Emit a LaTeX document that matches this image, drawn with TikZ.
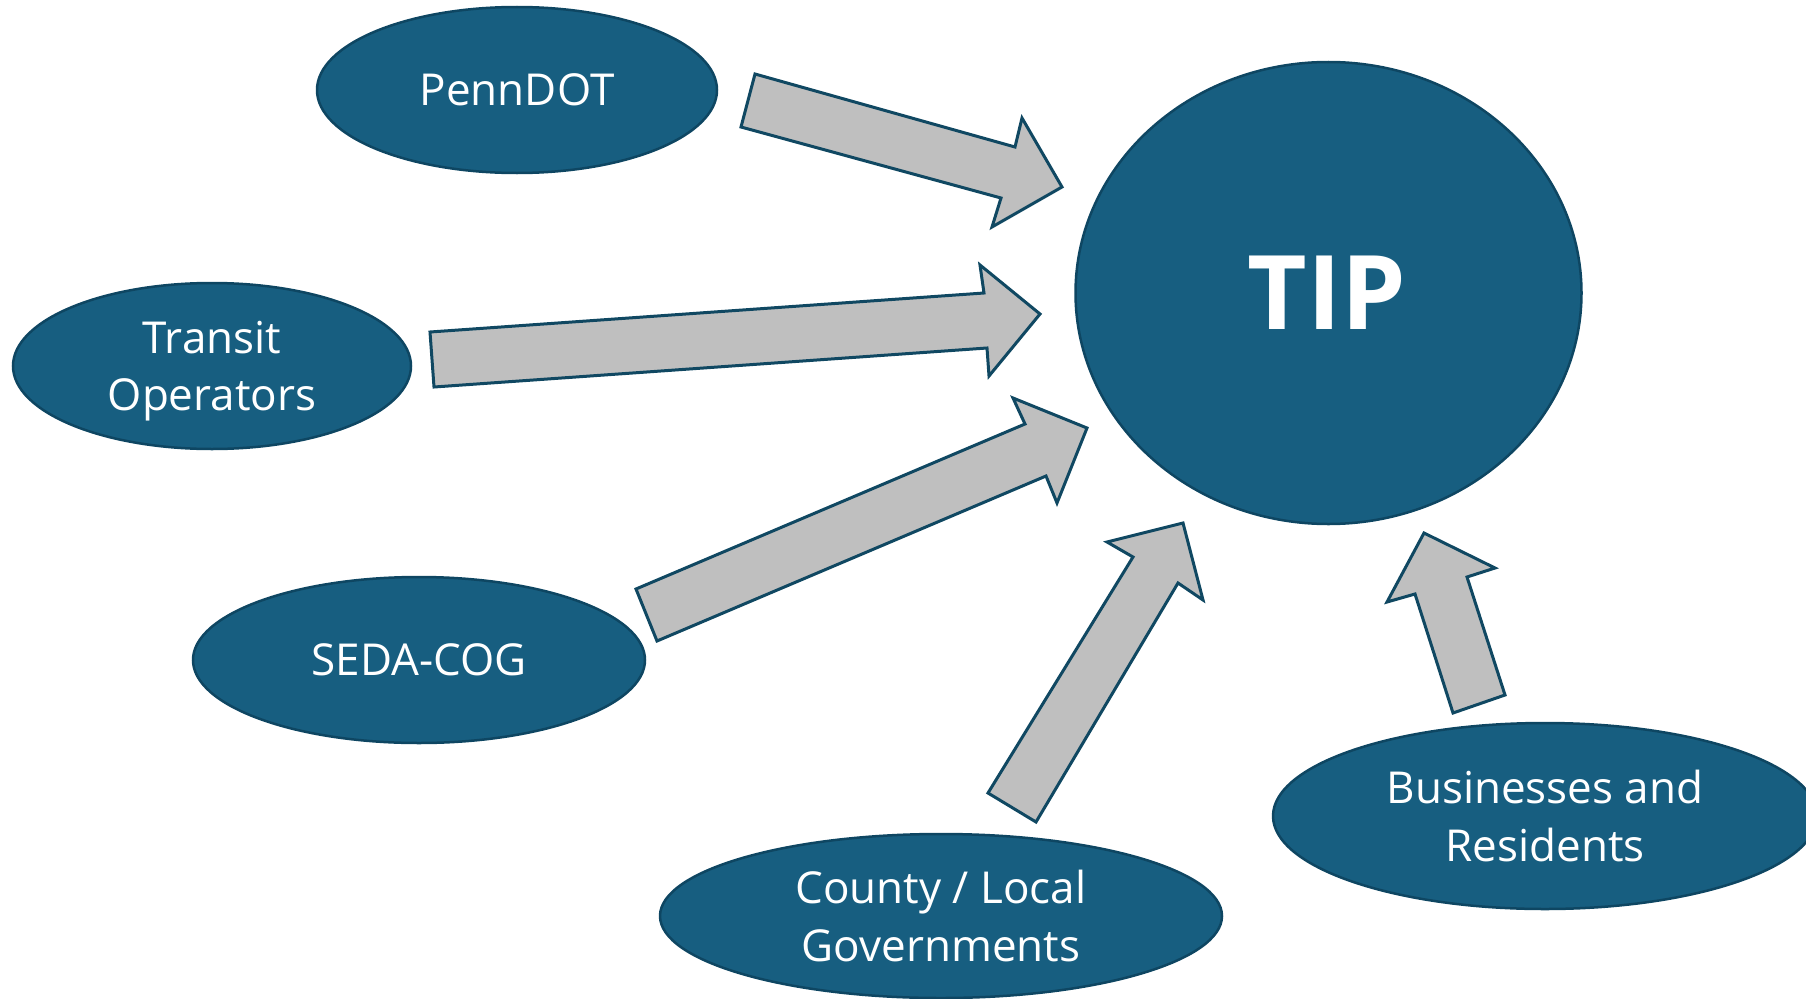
\documentclass[tikz,border=0pt]{standalone}
\usepackage{fontspec}
\setmainfont{Open Sans}
\usetikzlibrary{shapes.geometric}
\definecolor{blobfill}{RGB}{23,94,128}
\definecolor{blobedge}{RGB}{14,70,98}
\definecolor{arrfill}{RGB}{191,191,191}
\definecolor{arredge}{RGB}{16,72,98}
\tikzset{
  blob/.style={ellipse, fill=blobfill, draw=blobedge, line width=2.5pt, inner sep=0pt,
    text=white, align=center, text depth=0pt, font=\fontsize{44}{57.5}\selectfont},
  blockarrow/.style={fill=arrfill, draw=arredge, line width=3pt, line join=miter}
}
\begin{document}
\begin{tikzpicture}[x=1pt,y=-1pt]
\useasboundingbox (0,0) rectangle (1806,998);
% nodes
\node[blob, minimum width=506pt, minimum height=462pt] (tip) at (1328.5,293) {};
\node[text=white, font=\fontsize{103}{110}\selectfont\bfseries] (tiplabel) at (1327,293) {TIP};
\node[blob, minimum width=400pt, minimum height=166pt] (penn) at (517,90) {PennDOT};
\node[blob, minimum width=398pt, minimum height=166pt] (transit) at (212,366) {Transit\\Operators};
\node[blob, minimum width=452pt, minimum height=166pt] (seda) at (419,660) {SEDA-COG};
\node[blob, minimum width=562pt, minimum height=164pt] (county) at (941,916) {County / Local\\Governments};
\node[blob, minimum width=544pt, minimum height=186pt] (biz) at (1545,816) {Businesses and\\Residents};
% block arrows
\draw[blockarrow] (755,74) -- (1015,147) -- (1022,118) -- (1062,187) -- (992,227) -- (1001,198) -- (741,127) -- cycle;
\draw[blockarrow] (430,332) -- (984,293) -- (980,265) -- (1040,314) -- (989,376) -- (987,348) -- (434,387) -- cycle;
\draw[blockarrow] (636,589) -- (1025,424) -- (1013,398) -- (1087,428) -- (1057,503) -- (1046,476) -- (657,641) -- cycle;
\draw[blockarrow] (988,793) -- (1133,557) -- (1107,542) -- (1183,523) -- (1203,600) -- (1178,583) -- (1036,822) -- cycle;
\draw[blockarrow] (1453,713) -- (1415,594) -- (1387,602) -- (1424,533) -- (1495,568) -- (1467,577) -- (1505,695) -- cycle;
\end{tikzpicture}
\end{document}
